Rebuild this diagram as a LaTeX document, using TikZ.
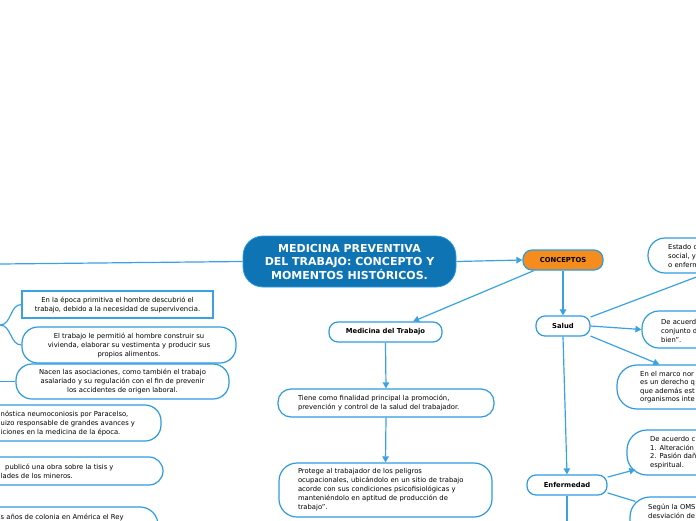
\documentclass[tikz,border=0pt]{standalone}
\usepackage{fontspec}
\setmainfont{DejaVu Sans}
\usetikzlibrary{arrows.meta,calc}
\definecolor{lb}{HTML}{2D9BE1}
\definecolor{ln}{HTML}{3AA2E3}
\definecolor{db}{HTML}{0E74B4}
\definecolor{org}{HTML}{F48C1E}
\begin{document}
\begin{tikzpicture}[x=1pt,y=-1pt,
  small/.style={font=\fontsize{6.8}{9}\selectfont},
  conn/.style={draw=ln,line width=1.2pt},
  arr/.style={conn,-{Triangle[length=6pt,width=6.5pt]}},
  pill/.style={draw=lb,line width=1.2pt,fill=white,rounded corners=9pt,inner sep=0pt,font=\bfseries\fontsize{6.8}{9}\selectfont},
  bigbox/.style={draw=lb,line width=1.2pt,fill=white,rounded corners=16pt,inner sep=0pt,small},
  frag/.style={small,anchor=west,align=left,inner sep=0pt}
]
\useasboundingbox (0,0) rectangle (696,520);
\clip (0,0) rectangle (696,520);

% central
\node[fill=db,draw=lb,line width=0.8pt,rounded corners=20pt,minimum width=213pt,minimum height=51pt,
  text=white,font=\bfseries\fontsize{11}{13.5}\selectfont,align=center,inner sep=0pt] (central) at (349.5,261.5)
  {MEDICINA PREVENTIVA\\DEL TRABAJO: CONCEPTO Y\\MOMENTOS HISTÓRICOS.};

% pills
\node[pill,fill=org,minimum width=80pt,minimum height=20pt] (concepts) at (563,260) {CONCEPTOS};
\node[pill,minimum width=113pt,minimum height=20pt] (medtrab) at (385.5,332) {Medicina del Trabajo};
\node[pill,minimum width=54pt,minimum height=20pt] (salud) at (563,326) {Salud};
\node[pill,minimum width=80pt,minimum height=20pt] (enfermedad) at (567,485) {Enfermedad};

% center column
\node[bigbox,rounded corners=13pt,minimum width=216pt,minimum height=28pt,text width=176pt,inner xsep=20pt,align=left] (tiene) at (386,403)
  {Tiene como finalidad principal la promoción,\\prevención y control de la salud del trabajador.};
\node[bigbox,rounded corners=18pt,minimum width=213pt,minimum height=54pt,text width=175pt,inner xsep=19pt,align=left] (protege) at (385.5,490)
  {Protege al trabajador de los peligros\\ocupacionales, ubicándolo en un sitio de trabajo\\acorde con sus condiciones psicofisiológicas y\\manteniéndolo en aptitud de producción de\\trabajo”.};

% left column
\node[draw=ln,line width=1.2pt,fill=white,minimum width=191pt,minimum height=27pt,small,align=center,inner sep=0pt] (epoca) at (117.5,304.5)
  {En la época primitiva el hombre descubrió el\\trabajo, debido a la necesidad de supervivencia.};
\node[bigbox,minimum width=214pt,minimum height=36pt,align=center] (permitio) at (129,345)
  {El trabajo le permitió al hombre construir su\\vivienda, elaborar su vestimenta y producir sus\\propios alimentos.};
\node[bigbox,minimum width=213pt,minimum height=35pt,align=center] (nacen) at (122.5,381.5)
  {Nacen las asociaciones, como también el trabajo\\asalariado y su regulación con el fin de prevenir\\los accidentes de origen laboral.};
\node[bigbox,minimum width=221pt,minimum height=36pt] (paracelso) at (50.5,423) {};
\node[frag] (paracelsotxt) at (0.5,423.5) {nóstica neumoconiosis por Paracelso,\\uizo responsable de grandes avances y\\iciones en la medicina de la época.};
\node[bigbox,rounded corners=14pt,minimum width=223pt,minimum height=28pt] (tisis) at (51.5,471) {};
\node[frag] (tisistxt) at (0.5,471) {\hspace*{4.5pt}publicó una obra sobre la tisis y\\lades de los mineros.};
\node[bigbox,rounded corners=18pt,minimum width=218pt,minimum height=60pt] (colonia) at (49,537) {};
\node[frag] (coloniatxt) at (0.5,517.5) {s años de colonia en América el Rey};

% right column
\node[bigbox,rounded corners=17pt,minimum width=250pt,minimum height=35pt] (estado) at (773,255.5) {};
\node[frag] (estadotxt) at (668,256) {Estado d\\social, y\\o enferm};
\node[bigbox,rounded corners=17pt,minimum width=250pt,minimum height=37pt] (deac1) at (767,329.5) {};
\node[frag] (deac1txt) at (661,331) {De acuerd\\conjunto d\\bien”.};
\node[bigbox,rounded corners=20pt,minimum width=250pt,minimum height=44pt] (marco) at (742,387) {};
\node[frag,font=\fontsize{6.8}{8.5}\selectfont] (marcotxt) at (640,387) {En el marco nor\\es un derecho q\\que además est\\organismos inte};
\node[bigbox,rounded corners=20pt,minimum width=250pt,minimum height=45pt] (deac2) at (752,452.5) {};
\node[frag,font=\fontsize{6.8}{8.5}\selectfont] (deac2txt) at (650,452.5) {De acuerdo c\\1. Alteración\\2. Pasión dañ\\espiritual.};
\node[bigbox,rounded corners=20pt,minimum width=250pt,minimum height=60pt] (segun) at (755,527) {};
\node[frag] (seguntxt) at (648,511.5) {Según la OMS\\desviación de};

% connectors
\coordinate (leftin) at (0,264);
\draw[conn] (leftin) -- (central.west);
\draw[arr] (central.east) -- (concepts.west);
\draw[arr] (concepts.200) -- (medtrab.21);
\draw[arr] (concepts.south) -- (salud.north);
\draw[conn] (salud.18) -- ($(estado.south west)+(58,0)$);
\draw[arr] (salud.east) -- (deac1.west);
\draw[arr] (salud.-20) -- ($(marco.north west)+(43,0)$);
\draw[arr] (salud.south) -- (enfermedad.north);
\draw[arr] (enfermedad.11) -- ($(deac2.south west)+(9,-6)$);
\draw[conn] (enfermedad.-11) -- ($(segun.north west)+(6,5)$);
\coordinate (enfout) at (567,530);
\draw[conn] (enfermedad.south) -- (enfout);
\draw[arr] (medtrab.south) -- (tiene.north);
\draw[arr] (tiene.south) -- (protege.north);
\coordinate (brk) at (0,325);
\draw[conn] (brk) to[out=0,in=180] (epoca.west);
\draw[conn] (brk) to[out=0,in=180] (permitio.west);
\coordinate (nacenin) at (0,381.5);
\draw[conn] (nacenin) -- (nacen.west);
\end{tikzpicture}
\end{document}
